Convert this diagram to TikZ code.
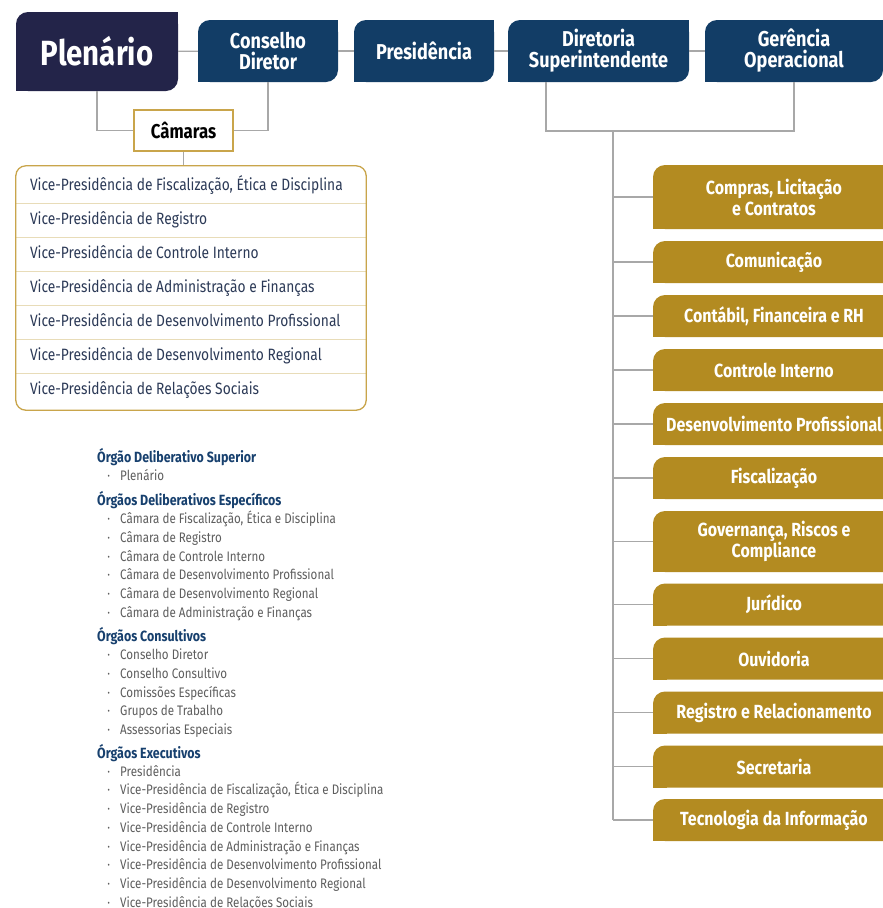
\documentclass[tikz,border=0pt]{standalone}
\usepackage{fontspec}
\setmainfont{Fira Sans}[FakeStretch=0.84]
\usetikzlibrary{fit}

\definecolor{plenblue}{HTML}{232449}
\definecolor{navy}{HTML}{123D66}
\definecolor{gold}{HTML}{B38B21}
\definecolor{camgold}{HTML}{C9A54B}
\definecolor{divgold}{HTML}{E8DCB8}
\definecolor{linegrey}{HTML}{A8A8A8}
\definecolor{rowtext}{HTML}{2C3A57}
\definecolor{headtext}{HTML}{17406E}
\definecolor{itemgrey}{HTML}{5E5E5E}

\tikzset{
  hdbox/.style={fill=navy, text=white, align=center, inner sep=0pt, rounded corners=12pt,
    minimum height=62pt, font=\bfseries\fontsize{21.5}{21}\selectfont},
  goldbox/.style={fill=gold, text=white, align=center, inner sep=0pt, rounded corners=12pt,
    minimum width=242pt, font=\bfseries\fontsize{19}{21}\selectfont},
  cambox/.style={draw=camgold, line width=1.3pt, fill=white, minimum width=99pt, minimum height=41pt,
    inner sep=0pt, font=\bfseries\fontsize{20}{22}\selectfont},
  vprow/.style={text width=336pt, inner xsep=7pt, inner ysep=0pt, minimum height=34pt,
    text height=12pt, text depth=4pt,
    align=flush left, text=rowtext, font=\fontsize{16.4}{18}\selectfont,
    execute at begin node={\hspace*{7pt}}},
  vpframe/.style={draw=camgold, line width=1.3pt, rounded corners=10pt, inner xsep=0pt, inner ysep=3pt},
  divider/.style={draw=divgold, line width=1.2pt},
  link/.style={draw=linegrey, line width=1.2pt},
  lhead/.style={anchor=base west, inner sep=0pt, text=headtext, font=\bfseries\fontsize{14.8}{17}\selectfont},
  litem/.style={anchor=base west, inner sep=0pt, text=itemgrey, font=\fontsize{13.8}{16}\selectfont,
    execute at begin node={\llap{·\hspace{10pt}}}}
}

\begin{document}
\begin{tikzpicture}[x=1pt, y=-1pt]
\useasboundingbox (0,0) rectangle (883,908);
\fill[white] (0,0) rectangle (883,908);

% top row
\node[hdbox, fill=plenblue, minimum width=162pt, minimum height=79pt, font=\bfseries\fontsize{35}{36}\selectfont] (plen) at (97,51.5) {Plenário};
\node[hdbox, minimum width=140pt] (cons) at (268,51) {Conselho\\Diretor};
\node[hdbox, minimum width=140pt] (pres) at (424,51) {Presidência};
\node[hdbox, minimum width=181pt] (dirs) at (598.5,51) {Diretoria\\Superintendente};
\node[hdbox, minimum width=178pt] (ger) at (794,51) {Gerência\\Operacional};
\foreach \n/\c in {plen/plenblue, cons/navy, pres/navy, dirs/navy, ger/navy}{
  \fill[\c] (\n.north east) rectangle ([xshift=-14pt, yshift=-14pt]\n.north east);
  \fill[\c] (\n.south west) rectangle ([xshift=14pt, yshift=14pt]\n.south west);
}
\draw[link] (plen) -- (cons);
\draw[link] (cons) -- (pres);
\draw[link] (pres) -- (dirs);
\draw[link] (dirs) -- (ger);

% camaras and vice-presidencias
\node[cambox] (cam) at (183.5,130.5) {Câmaras};
\draw[link] (plen.south) |- (cam.west);
\draw[link] (cons.south) |- (cam.east);

\foreach \t [count=\i] in {{Vice-Presidência de Fiscalização, Ética e Disciplina}, Vice-Presidência de Registro,
  Vice-Presidência de Controle Interno, Vice-Presidência de Administração e Finanças,
  Vice-Presidência de Desenvolvimento Profissional, Vice-Presidência de Desenvolvimento Regional,
  Vice-Presidência de Relações Sociais}
  \node[vprow] (vp\i) at (191, 152+34*\i) {\t};
\foreach \i in {1,...,6} \draw[divider] (vp\i.south west) -- (vp\i.south east);
\node[vpframe, fit=(vp1)(vp7)] (vplist) {};
\draw[link] (cam.south) -- (cam.south |- vplist.north);

% gerencias
\foreach \t/\y/\h [count=\i] in {{Compras, Licitação\\e Contratos}/197/64, Comunicação/262/42,
  {Contábil, Financeira e RH}/316/42, Controle Interno/370/42, Desenvolvimento Profissional/424/42,
  Fiscalização/478/42, {Governança, Riscos e\\Compliance}/541.5/61, Jurídico/604.5/42,
  Ouvidoria/658.5/42, Registro e Relacionamento/712.5/42, Secretaria/766.5/42,
  Tecnologia da Informação/820/42}{
  \node[goldbox, minimum height=\h pt] (g\i) at (774,\y) {\t};
  \fill[gold] (g\i.south west) rectangle ([xshift=14pt, yshift=14pt]g\i.south west);
}
\coordinate (dsj) at (546,131);
\coordinate (trunk) at (613,131);
\draw[link] (dirs.south -| dsj) -- (dsj) -| (ger.south);
\draw[link] (trunk) -- (trunk |- g12.west);
\foreach \i in {1,...,12} \draw[link] (trunk |- g\i.west) -- (g\i.west);

% legenda
\node[lhead] (sup) at (97,462) {Órgão Deliberativo Superior};
\node[litem] (sup1) at (120,480.7) {Plenário};

\node[lhead] (esp) at (97,505) {Órgãos Deliberativos Específicos};
\foreach \t [count=\i] in {{Câmara de Fiscalização, Ética e Disciplina}, Câmara de Registro,
  Câmara de Controle Interno, Câmara de Desenvolvimento Profissional,
  Câmara de Desenvolvimento Regional, Câmara de Administração e Finanças}
  \node[litem] (esp\i) at (120, 505+18.7*\i) {\t};

\node[lhead] (con) at (97,641) {Órgãos Consultivos};
\foreach \t [count=\i] in {Conselho Diretor, Conselho Consultivo, Comissões Específicas,
  Grupos de Trabalho, Assessorias Especiais}
  \node[litem] (con\i) at (120, 641+18.7*\i) {\t};

\node[lhead] (exe) at (97,758) {Órgãos Executivos};
\foreach \t [count=\i] in {Presidência, {Vice-Presidência de Fiscalização, Ética e Disciplina},
  Vice-Presidência de Registro, Vice-Presidência de Controle Interno,
  Vice-Presidência de Administração e Finanças, Vice-Presidência de Desenvolvimento Profissional,
  Vice-Presidência de Desenvolvimento Regional, Vice-Presidência de Relações Sociais}
  \node[litem] (exe\i) at (120, 757.5+18.7*\i) {\t};
\end{tikzpicture}
\end{document}
